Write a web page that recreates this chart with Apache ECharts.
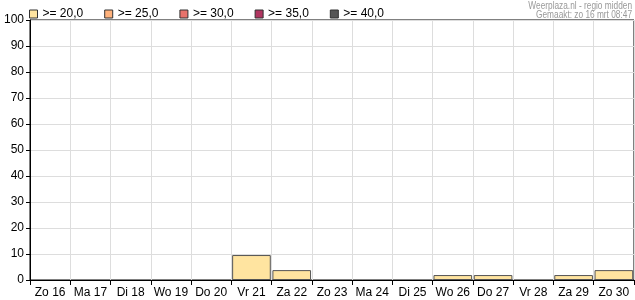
<!DOCTYPE html>
<html><head><meta charset="utf-8">
<script src="https://cdn.jsdelivr.net/npm/echarts@6/dist/echarts.min.js"></script>
<style>html,body{margin:0;padding:0;background:#fff}#c{width:635px;height:300px}</style>
</head><body><div id="c"></div>
<script>
var categories = ["Zo 16","Ma 17","Di 18","Wo 19","Do 20","Vr 21","Za 22","Zo 23","Ma 24","Di 25","Wo 26","Do 27","Vr 28","Za 29","Zo 30"];
var seriesNames = [">= 20,0", ">= 25,0", ">= 30,0", ">= 35,0", ">= 40,0"];
var seriesColors = ["#ffe4a0", "#ffb27c", "#e8736c", "#b03560", "#555555"];
var v20 = [0,0,0,0,0,9.6,3.8,0,0,0,1.9,1.9,0,1.9,3.8];
var v25 = [0,0,0,0,0,0,0,0,0,0,0,0,0,0,0];
var v30 = [0,0,0,0,0,0,0,0,0,0,0,0,0,0,0];
var v35 = [0,0,0,0,0,0,0,0,0,0,0,0,0,0,0];
var v40 = [0,0,0,0,0,0,0,0,0,0,0,0,0,0,0];
var allValues = [v20, v25, v30, v35, v40];
var yTicks = {min: 0, max: 100, interval: 10};
var credit1 = "Weerplaza.nl - regio midden";
var credit2 = "Gemaakt: zo 16 mrt 08:47";

var font = "Liberation Sans, Arial, sans-serif";
var chart = echarts.init(document.getElementById('c'), null, {renderer: 'canvas'});
var series = seriesNames.map(function(n, i){
  return {
    name: n, type: 'bar', stack: 'a', data: allValues[i].map(function(v){ return v > 0 ? v : null; }),
    barWidth: '96%',
    itemStyle: {color: seriesColors[i], borderColor: '#555', borderWidth: 1},
    animation: false
  };
});
chart.setOption({
  animation: false,
  textStyle: {fontFamily: font},
  legend: {
    data: seriesNames.map(function(n, i){ return {name: n, itemStyle: {color: seriesColors[i], borderColor: '#333', borderWidth: 1}}; }),
    left: 29, top: 8, itemWidth: 8, itemHeight: 8, itemGap: 21, icon: 'rect',
    textStyle: {fontSize: 12, color: '#000', fontFamily: font},
    selectedMode: false, padding: 0
  },
  graphic: [
    {type: 'text', right: 3, top: 1, scaleX: 0.83, style: {text: credit1, fill: '#999', font: '10px ' + font}},
    {type: 'text', right: 3, top: 10, scaleX: 0.83, style: {text: credit2, fill: '#999', font: '10px ' + font}}
  ],
  grid: {left: 30, right: 1, top: 20, bottom: 20, show: true, borderColor: '#000', borderWidth: 1, backgroundColor: 'transparent'},
  xAxis: {
    type: 'category', data: categories, boundaryGap: true,
    axisLine: {lineStyle: {color: '#000', width: 1}},
    axisTick: {show: true, length: 5, inside: false, alignWithLabel: false, lineStyle: {color: '#000'}},
    axisLabel: {color: '#000', fontSize: 12, margin: 7, interval: 0, fontFamily: font},
    splitLine: {show: true, interval: 0, lineStyle: {color: '#dddddd', width: 1}}
  },
  yAxis: {
    type: 'value', min: yTicks.min, max: yTicks.max, interval: yTicks.interval,
    axisLine: {show: true, lineStyle: {color: '#000', width: 1}},
    axisTick: {show: true, length: 4, lineStyle: {color: '#000'}},
    axisLabel: {color: '#000', fontSize: 12, margin: 6, fontFamily: font},
    splitLine: {show: true, lineStyle: {color: '#dddddd', width: 1}}
  },
  series: series
});
</script></body></html>
